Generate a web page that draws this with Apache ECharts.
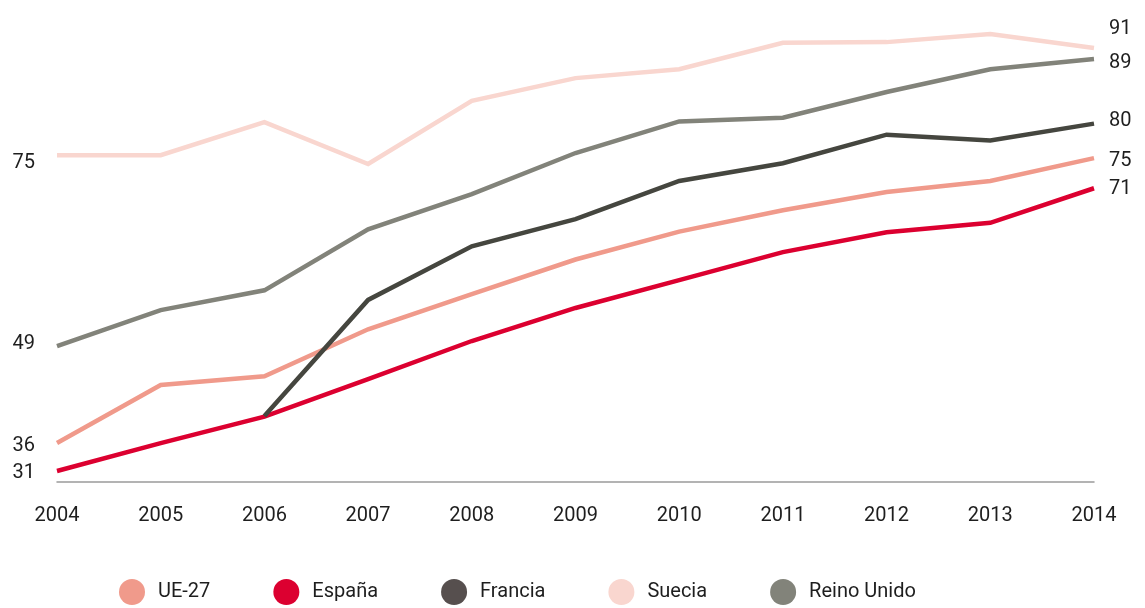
<!DOCTYPE html>
<html>
<head>
<meta charset="utf-8">
<script src="https://cdn.jsdelivr.net/npm/echarts@6/dist/echarts.min.js"></script>
<style>
  html, body { margin: 0; padding: 0; background: #fff; }
  #chart { width: 1145px; height: 608px; }
</style>
</head>
<body>
<div id="chart"></div>
<script>
// años
var years = ['2004', '2005', '2006', '2007', '2008', '2009', '2010', '2011', '2012', '2013', '2014'];

// valores
var ue27 = [35.8, 43.7, 44.9, 51.3, 56.1, 60.8, 64.6, 67.5, 70.0, 71.5, 74.6];
var espana = [32.0, 35.8, 39.4, 44.5, 49.7, 54.2, 58.0, 61.8, 64.5, 65.8, 70.5];
var francia = [null, null, 39.5, 55.3, 62.6, 66.3, 71.5, 73.9, 77.8, 77.0, 79.3];
var suecia = [75.0, 75.0, 79.5, 73.8, 82.4, 85.5, 86.7, 90.3, 90.4, 91.5, 89.6];
var reinoUnido = [49.0, 53.9, 56.6, 64.9, 69.7, 75.3, 79.6, 80.1, 83.6, 86.7, 88.1];

// etiquetas impresas al inicio y al final de cada línea
var startLabels = { 'UE-27': '36', 'España': '31', 'Francia': null, 'Suecia': '75', 'Reino Unido': '49' };
var endLabels = { 'UE-27': '75', 'España': '71', 'Francia': '80', 'Suecia': '91', 'Reino Unido': '89' };

var colors = { 'UE-27': '#f09a8b', 'España': '#dc0030', 'Francia': '#45463f', 'Suecia': '#f9d6cf', 'Reino Unido': '#82837a' };
var legendColors = { 'UE-27': '#f09a8b', 'España': '#dc0030', 'Francia': '#564f4e', 'Suecia': '#f9d6cf', 'Reino Unido': '#82837a' };

// ajuste vertical de las etiquetas
var startShift = { 'UE-27': 3, 'España': 2, 'Francia': 0, 'Suecia': 8, 'Reino Unido': -2 };
var endShift = { 'UE-27': 3, 'España': 1, 'Francia': -3, 'Suecia': -19, 'Reino Unido': 4 };

var labelFont = { color: '#1e1e1e', fontSize: 20, fontFamily: 'Roboto' };

function buildData(name, values) {
  var firstIdx = values.findIndex(function (v) { return v !== null; });
  var lastIdx = values.length - 1;
  return values.map(function (v, i) {
    if (i === firstIdx && startLabels[name]) {
      return {
        value: v,
        label: Object.assign({
          show: true, position: 'left', distance: 22,
          offset: [0, startShift[name]],
          formatter: startLabels[name]
        }, labelFont)
      };
    }
    if (i === lastIdx) {
      return {
        value: v,
        label: Object.assign({
          show: true, position: 'right', distance: 15,
          offset: [0, endShift[name]],
          formatter: endLabels[name]
        }, labelFont)
      };
    }
    return v;
  });
}

function makeSeries(name, values, z) {
  return {
    name: name,
    type: 'line',
    data: buildData(name, values),
    showSymbol: true,
    symbol: 'circle',
    symbolSize: 0.1,
    z: z,
    lineStyle: { color: colors[name], width: 4.5, join: 'miter' },
    itemStyle: { color: legendColors[name] },
    label: { show: false },
    emphasis: { disabled: true },
    animation: false
  };
}

var chart = echarts.init(document.getElementById('chart'));
chart.setOption({
  backgroundColor: '#fff',
  animation: false,
  grid: { left: 57, right: 51, top: 1, bottom: 126, containLabel: false },
  xAxis: {
    type: 'category',
    data: years,
    boundaryGap: false,
    axisLine: { lineStyle: { color: '#9a9a9a', width: 1.5 } },
    axisTick: { show: false },
    axisLabel: { color: '#1e1e1e', fontSize: 20, fontFamily: 'Roboto', margin: 24 },
    splitLine: { show: false }
  },
  yAxis: {
    type: 'value',
    min: 30.5,
    max: 96,
    show: false,
    splitLine: { show: false }
  },
  legend: {
    left: 114,
    top: 574,
    itemWidth: 26,
    itemHeight: 26,
    itemGap: 63,
    icon: 'circle',
    data: ['UE-27', 'España', 'Francia', 'Suecia', 'Reino Unido'],
    textStyle: { color: '#1e1e1e', fontSize: 20, fontFamily: 'Roboto', padding: [0, 0, 0, 8] }
  },
  series: [
    makeSeries('Suecia', suecia, 2),
    makeSeries('Reino Unido', reinoUnido, 3),
    makeSeries('UE-27', ue27, 4),
    makeSeries('España', espana, 5),
    makeSeries('Francia', francia, 6)
  ]
});
</script>
</body>
</html>
